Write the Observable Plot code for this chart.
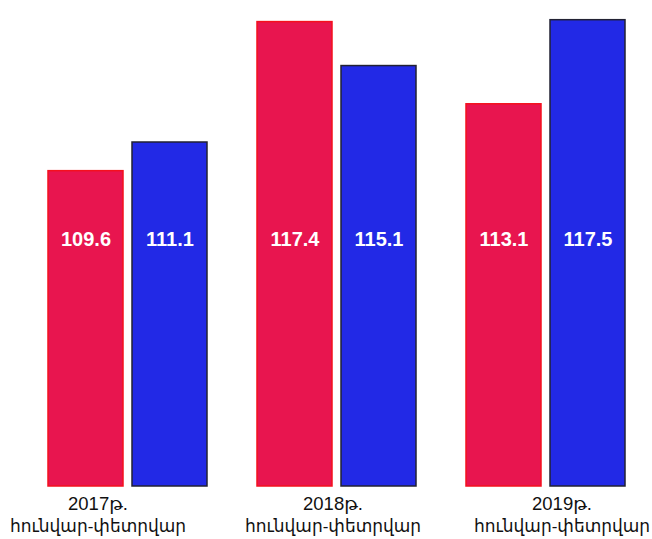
<!DOCTYPE html>
<html>
<head>
<meta charset="utf-8">
<script src="https://cdn.jsdelivr.net/npm/d3@7"></script>
<script src="https://cdn.jsdelivr.net/npm/@observablehq/plot@0.6"></script>
<style>
  html, body { margin: 0; padding: 0; background: #fff; }
  #chart svg { display: block; }
</style>
</head>
<body>
<div id="chart"></div>
<script>
const years = ["2017թ.", "2018թ.", "2019թ."];
const period = "հունվար-փետրվար";
const series = ["red", "blue"];
const redValues = [109.6, 117.4, 113.1];
const blueValues = [111.1, 115.1, 117.5];
const labelShift = [-30, -4, 16];
const yDomain = [93.1, 118.53];

const rows = [];
years.forEach((y, i) => {
  rows.push({year: y, s: "red", v: redValues[i]});
  rows.push({year: y, s: "blue", v: blueValues[i]});
});

const fillOf = {red: "#e8154f", blue: "#2229e6"};
const strokeOf = {red: "#f4101e", blue: "#222233"};
const font = "Arial, 'Liberation Sans', 'DejaVu Sans', sans-serif";

const catMarks = years.flatMap((y, i) => [
  Plot.text([{year: y}], {
    fx: "year",
    text: d => d.year,
    frameAnchor: "bottom",
    dy: 23,
    dx: labelShift[i],
    lineAnchor: "bottom",
    fontSize: 18.5,
    fill: "#111",
    fontFamily: font
  }),
  Plot.text([{year: y}], {
    fx: "year",
    text: () => period,
    frameAnchor: "bottom",
    dy: 45,
    dx: labelShift[i],
    lineAnchor: "bottom",
    fontSize: 17,
    fill: "#111",
    fontFamily: font
  })
]);

const chart = Plot.plot({
  width: 652,
  height: 539,
  marginLeft: 48,
  marginRight: 27,
  marginTop: 0,
  marginBottom: 53,
  style: {fontFamily: font, background: "transparent", overflow: "visible"},
  fx: {domain: years, paddingInner: 50 / 209, paddingOuter: 0, axis: null},
  x: {domain: series, paddingInner: 9 / 84, paddingOuter: 0, axis: null},
  y: {domain: yDomain, axis: null},
  marks: [
    Plot.rectY(rows, {
      fx: "year", x: "s", y1: () => yDomain[0], y2: "v",
      fill: d => fillOf[d.s],
      stroke: d => strokeOf[d.s],
      strokeWidth: 1.5
    }),
    Plot.text(rows, {
      fx: "year", x: "s",
      text: d => d.v.toFixed(1),
      frameAnchor: "top",
      dy: 231,
      fill: "white",
      fontWeight: "bold",
      fontSize: 20,
      fontFamily: font
    }),
    ...catMarks
  ]
});
document.getElementById("chart").appendChild(chart);
</script>
</body>
</html>
